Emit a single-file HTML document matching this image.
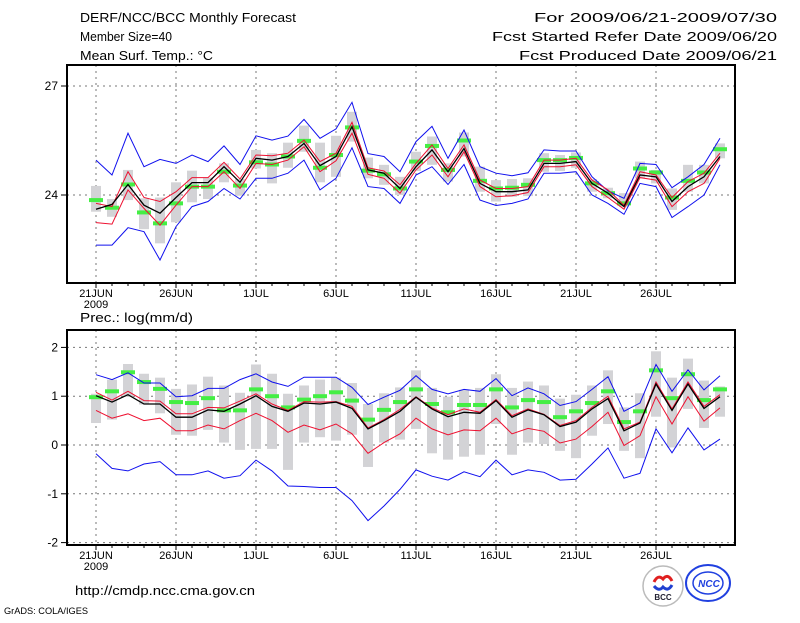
<!DOCTYPE html>
<html><head><meta charset="utf-8">
<style>
html,body{margin:0;padding:0;background:#fff;}
body{width:800px;height:618px;overflow:hidden;font-family:"Liberation Sans",sans-serif;}
svg text{font-family:"Liberation Sans",sans-serif;}
</style></head>
<body>
<svg id="chart" width="800" height="618" viewBox="0 0 800 618" xmlns="http://www.w3.org/2000/svg">
<g font-size="13" fill="#000">
<text x="80" y="22" textLength="216" lengthAdjust="spacingAndGlyphs">DERF/NCC/BCC Monthly Forecast</text>
<text x="80" y="41" textLength="92" lengthAdjust="spacingAndGlyphs">Member Size=40</text>
<text x="80" y="60" textLength="133" lengthAdjust="spacingAndGlyphs">Mean Surf. Temp.: °C</text>
<text x="534" y="22" textLength="243" lengthAdjust="spacingAndGlyphs">For 2009/06/21-2009/07/30</text>
<text x="492" y="41" textLength="285" lengthAdjust="spacingAndGlyphs">Fcst Started Refer Date 2009/06/20</text>
<text x="519" y="60" textLength="258" lengthAdjust="spacingAndGlyphs">Fcst Produced Date 2009/06/21</text>
<text x="80" y="322" textLength="113" lengthAdjust="spacingAndGlyphs">Prec.: log(mm/d)</text>
<text x="75" y="595" textLength="180" lengthAdjust="spacingAndGlyphs">http://cmdp.ncc.cma.gov.cn</text>
<text x="4" y="614" font-size="9" textLength="84" lengthAdjust="spacingAndGlyphs">GrADS: COLA/IGES</text>
</g>
<g>
<circle cx="663" cy="586" r="20" fill="#fff" stroke="#bbb" stroke-width="1.5"/>
<path d="M654 582 q4 -8 9 -3 q5 -6 9 2" fill="none" stroke="#e02020" stroke-width="3"/>
<path d="M654 586 q5 6 9 1 q5 5 9 -2" fill="none" stroke="#2040d0" stroke-width="3"/>
<text x="663" y="600" font-size="8" font-weight="bold" text-anchor="middle" fill="#223">BCC</text>
<ellipse cx="708" cy="583" rx="22" ry="18" fill="#fff" stroke="#2040e0" stroke-width="2"/>
<ellipse cx="708" cy="583" rx="15" ry="11" fill="none" stroke="#2040e0" stroke-width="1.5"/>
<text x="709" y="587" font-size="10" font-weight="bold" font-style="italic" text-anchor="middle" fill="#2040e0">NCC</text>
</g>
<g id="plots"></g>
</svg>
<script>
const days = Array.from({length:40},(_,i)=>i);
const xTickLabels = ["21JUN","26JUN","1JUL","6JUL","11JUL","16JUL","21JUL","26JUL"];
const tTicks = [24,27];
const pTicks = [2,1,0,-1,-2];
const tMean = [23.61,23.74,24.29,23.72,23.50,23.93,24.34,24.34,24.78,24.35,25.01,24.96,25.06,25.42,24.81,25.06,25.88,24.69,24.60,24.18,24.78,25.24,24.64,25.28,24.32,24.09,24.09,24.14,24.87,24.87,24.92,24.32,24.05,23.68,24.55,24.50,23.82,24.23,24.50,25.06];
const tRedHi = [23.77,23.68,24.64,23.93,23.82,24.09,24.48,24.48,24.90,24.44,25.10,25.08,25.15,25.51,24.92,25.15,26.00,24.75,24.66,24.28,24.87,25.38,24.73,25.38,24.41,24.18,24.18,24.23,24.96,24.96,25.01,24.41,24.14,23.72,24.64,24.55,23.93,24.37,24.60,25.15];
const tRedLo = [23.24,23.20,24.14,23.63,23.17,23.72,24.23,24.23,24.64,24.18,24.87,24.84,24.96,25.33,24.64,24.94,25.70,24.57,24.46,24.05,24.69,25.10,24.50,25.19,24.23,23.95,23.98,24.07,24.78,24.78,24.83,24.23,23.93,23.61,24.48,24.41,23.68,24.09,24.32,25.01];
const tBlueHi = [24.96,24.55,25.70,24.78,24.98,24.87,25.10,24.92,25.35,24.84,25.63,25.51,25.62,26.08,25.56,25.82,26.55,25.14,25.06,24.64,25.47,25.89,25.01,25.79,24.78,24.60,24.53,24.61,25.24,25.21,25.21,24.50,24.11,23.91,24.87,24.84,24.20,24.50,24.84,25.56];
const tBlueLo = [22.62,22.62,23.10,22.99,22.21,23.13,23.68,23.82,24.18,23.89,24.46,24.46,24.60,24.96,24.14,24.46,25.30,24.23,24.18,23.77,24.55,24.78,24.29,24.84,23.86,23.71,23.77,23.89,24.60,24.60,24.64,24.00,23.77,23.47,24.32,24.23,23.38,23.68,24.00,24.83];
const tGreen = [23.86,23.65,24.29,23.52,23.22,23.77,24.23,24.23,24.64,24.26,24.90,24.84,25.06,25.49,24.75,25.10,25.86,24.67,24.57,24.18,24.92,25.35,24.69,25.50,24.39,24.18,24.20,24.28,24.96,24.96,25.02,24.32,24.05,23.77,24.73,24.62,23.93,24.39,24.62,25.26];
const tBarHi = [24.25,23.89,24.69,23.91,23.93,24.35,24.67,24.48,24.87,24.44,25.24,25.15,25.44,25.91,25.44,25.63,26.29,25.03,24.83,24.50,25.19,25.61,24.87,25.72,24.78,24.41,24.44,24.46,25.15,25.10,25.17,24.44,24.20,24.05,24.92,24.69,24.18,24.83,24.83,25.42];
const tBarLo = [23.54,23.40,23.86,23.06,22.67,23.25,23.80,23.89,24.35,23.98,24.73,24.32,24.75,25.19,24.35,24.50,25.47,24.46,24.28,24.00,24.66,24.83,24.37,25.06,24.09,23.82,23.95,23.97,24.64,24.66,24.75,24.09,23.91,23.68,24.46,24.32,23.59,24.09,24.32,25.01];
const pMean = [1.01,0.88,1.03,0.84,0.84,0.57,0.57,0.72,0.69,0.84,1.01,0.79,0.69,0.86,0.84,0.88,0.75,0.33,0.50,0.69,0.98,0.74,0.58,0.67,0.65,0.91,0.57,0.72,0.62,0.38,0.47,0.74,0.95,0.29,0.45,1.25,0.71,1.25,0.75,0.99];
const pRedHi = [1.08,0.92,1.10,0.91,0.90,0.64,0.64,0.77,0.76,0.90,1.05,0.84,0.71,0.89,0.88,0.89,0.79,0.35,0.52,0.73,0.99,0.76,0.62,0.74,0.67,0.93,0.60,0.74,0.63,0.40,0.50,0.77,1.00,0.33,0.47,1.29,0.74,1.29,0.79,1.03];
const pRedLo = [0.71,0.55,0.64,0.50,0.55,0.29,0.29,0.41,0.33,0.50,0.65,0.50,0.26,0.41,0.31,0.43,0.23,-0.17,0.05,0.23,0.55,0.33,0.21,0.31,0.29,0.55,0.23,0.34,0.28,0.04,0.12,0.38,0.67,-0.01,0.19,0.99,0.43,0.99,0.49,0.76];
const pBlueHi = [1.44,1.34,1.48,1.27,1.27,0.99,1.01,1.16,1.16,1.34,1.46,1.29,1.20,1.39,1.39,1.39,1.18,0.83,0.98,1.12,1.42,1.14,1.05,1.14,1.10,1.36,1.01,1.17,1.05,0.81,0.89,1.14,1.40,0.69,0.86,1.65,1.10,1.54,1.13,1.42];
const pBlueLo = [-0.18,-0.48,-0.53,-0.39,-0.34,-0.61,-0.61,-0.53,-0.68,-0.63,-0.31,-0.53,-0.84,-0.85,-0.87,-0.87,-1.14,-1.55,-1.25,-0.91,-0.51,-0.64,-0.72,-0.55,-0.65,-0.31,-0.61,-0.51,-0.56,-0.72,-0.70,-0.39,-0.06,-0.68,-0.58,0.33,-0.16,0.35,-0.10,0.12];
const pGreen = [0.98,1.10,1.49,1.29,1.15,0.88,0.86,0.96,0.71,0.71,1.14,1.00,0.77,0.93,1.00,1.08,0.91,0.52,0.72,0.88,1.14,0.84,0.67,0.82,0.82,1.14,0.77,0.92,0.88,0.57,0.69,0.86,1.10,0.47,0.69,1.53,0.96,1.45,0.92,1.14];
const pBarHi = [1.05,1.34,1.66,1.46,1.38,1.15,1.24,1.40,1.22,1.07,1.65,1.46,1.05,1.22,1.34,1.38,1.27,0.84,1.06,1.18,1.53,1.17,0.99,1.13,1.17,1.45,1.17,1.30,1.22,0.95,1.03,1.22,1.53,0.77,1.06,1.92,1.38,1.77,1.32,1.20];
const pBarLo = [0.45,0.52,0.99,0.83,0.65,0.21,0.19,0.31,0.05,-0.10,-0.08,-0.08,-0.51,0.05,0.16,0.09,0.21,-0.45,0.05,0.11,0.33,-0.17,-0.30,-0.24,-0.20,0.43,-0.20,0.05,0.02,-0.12,-0.27,0.19,0.43,-0.12,-0.27,0.58,-0.05,0.74,0.35,0.58];

const NS="http://www.w3.org/2000/svg";
const root=document.getElementById('plots');
function mk(tag,attrs,parent){const e=document.createElementNS(NS,tag);for(const k in attrs)e.setAttribute(k,attrs[k]);(parent||root).appendChild(e);return e;}
const xScale = d => 96 + d*16;

function panel(name, top, bottom, v0, y0, v1, y1, ticks, s){
  const y = v => y0 + (v - v0)*(y1 - y0)/(v1 - v0);
  const g = mk('g',{});
  
  
  ticks.forEach(t=>{
    const l=mk('line',{x1:67,x2:735,y1:y(t),y2:y(t),stroke:'#777','stroke-dasharray':'2,4','stroke-width':1},g);
    
    
    const tk=mk('line',{x1:67,x2:61,y1:y(t),y2:y(t),stroke:'#000','stroke-width':1},g);
    
    
    const tx=mk('text',{x:58,y:y(t)+4,'text-anchor':'end','font-size':12},g);
    tx.textContent = String(t);
    
    
  });
  xTickLabels.forEach((lab,i)=>{
    const x=xScale(i*5);
    const l=mk('line',{x1:x,x2:x,y1:top,y2:bottom,stroke:'#777','stroke-dasharray':'2,4','stroke-width':1},g);
    
    
    const tx=mk('text',{x:x,y:bottom+14,'text-anchor':'middle','font-size':11},g);
    tx.textContent=lab;
    
    
  });
  const yr=mk('text',{x:96,y:bottom+25,'text-anchor':'middle','font-size':11},g);
  yr.textContent='2009';
  
  
  days.forEach(d=>{
    const x=xScale(d);
    const tk=mk('line',{x1:x,x2:x,y1:bottom,y2:bottom+(d%5===0?5:3),stroke:'#000','stroke-width':1},g);
    
    
  });
  days.forEach(d=>{
    const a=y(s.barHi[d]), b=y(s.barLo[d]);
    const r=mk('rect',{x:xScale(d)-5,y:Math.min(a,b),width:10,height:Math.abs(b-a),fill:'#d3d3d6'},g);
    
    
  });
  days.forEach(d=>{
    const r=mk('rect',{x:xScale(d)-7,y:y(s.green[d])-2,width:14,height:4,fill:'#44ee44'},g);
    
    
  });
  const line=(arr,col,w,nm)=>{
    const p=mk('polyline',{points:arr.map((v,i)=>xScale(i)+','+y(v).toFixed(1)).join(' '),fill:'none',stroke:col,'stroke-width':w},g);
    
    
  };
  line(s.blueHi,'#1010ee',1,'blue-upper-line');
  line(s.blueLo,'#1010ee',1,'blue-lower-line');
  line(s.redHi,'#ee1030',1,'red-upper-line');
  line(s.redLo,'#ee1030',1,'red-lower-line');
  line(s.mean,'#000',1.3,'ensemble-mean-line');
  const f=mk('rect',{x:67,y:top,width:668,height:bottom-top,fill:'none',stroke:'#000','stroke-width':2},g);
  
  
}
panel('temperature-panel',65,283,24,195,27,86,tTicks,{mean:tMean,redHi:tRedHi,redLo:tRedLo,blueHi:tBlueHi,blueLo:tBlueLo,green:tGreen,barHi:tBarHi,barLo:tBarLo});
panel('precip-panel',330,545,0,445,1,396.2,pTicks,{mean:pMean,redHi:pRedHi,redLo:pRedLo,blueHi:pBlueHi,blueLo:pBlueLo,green:pGreen,barHi:pBarHi,barLo:pBarLo});
</script>
</body></html>
